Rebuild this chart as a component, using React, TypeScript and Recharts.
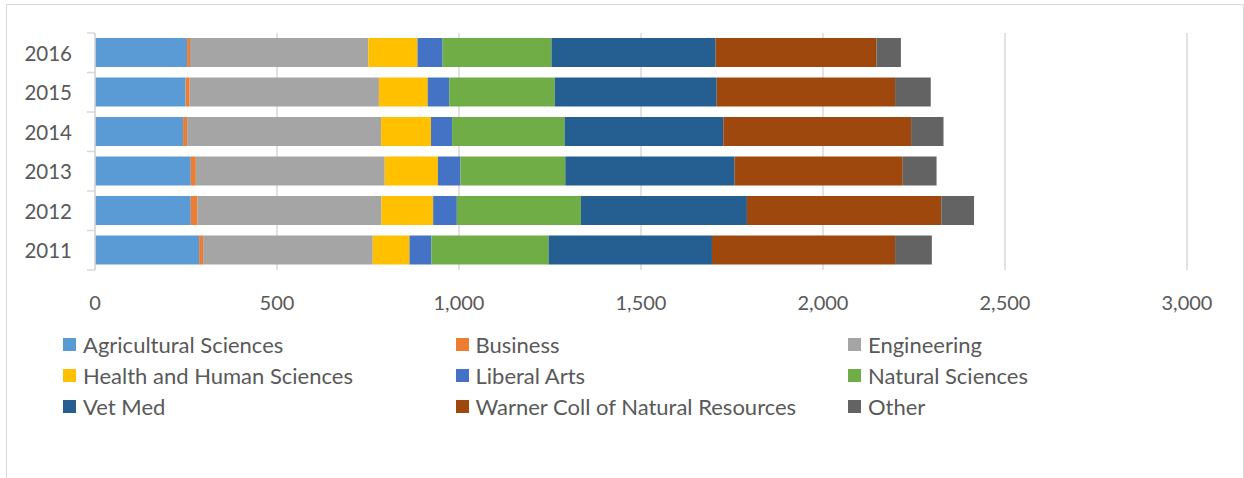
import { BarChart, Bar, XAxis, YAxis, CartesianGrid } from 'recharts'

const years = ['2016', '2015', '2014', '2013', '2012', '2011']

const seriesNames = [
  'Agricultural Sciences',
  'Business',
  'Engineering',
  'Health and Human Sciences',
  'Liberal Arts',
  'Natural Sciences',
  'Vet Med',
  'Warner Coll of Natural Resources',
  'Other',
]

const seriesColors = [
  '#5b9bd5',
  '#ed7d31',
  '#a5a5a5',
  '#ffc000',
  '#4472c4',
  '#70ad47',
  '#255e91',
  '#9e480e',
  '#636363',
]

// one list per college, in the same order as years (2016 first)
const agricultural = [253, 249, 242, 263, 263, 286]
const business = [8, 11, 11, 14, 18, 11]
const engineering = [490, 520, 533, 519, 506, 466]
const health = [135, 134, 137, 146, 142, 101]
const liberalArts = [69, 59, 58, 62, 65, 60]
const naturalSciences = [299, 290, 309, 288, 341, 322]
const vetMed = [451, 445, 436, 465, 456, 449]
const warner = [442, 490, 516, 462, 534, 503]
const other = [67, 98, 89, 93, 90, 101]

const xTicks = [0, 500, 1000, 1500, 2000, 2500, 3000]

const seriesValues = [
  agricultural,
  business,
  engineering,
  health,
  liberalArts,
  naturalSciences,
  vetMed,
  warner,
  other,
]

const data = years.map((year, i) => {
  const row: Record<string, string | number> = { year }
  seriesNames.forEach((name, s) => {
    row[name] = seriesValues[s][i]
  })
  return row
})

const FONT = 'Lato, "Open Sans", sans-serif'
const TEXT = '#595959'
const GRID = '#d9d9d9'
const BAND = 237 / years.length

function YearTick(props: any) {
  const { x, y, payload, index } = props
  return (
    <g>
      <text
        x={x - 23}
        y={y}
        textAnchor="end"
        dominantBaseline="central"
        fill={TEXT}
        fontSize={20.5}
        fontFamily={FONT}
      >
        {payload.value}
      </text>
      <line x1={x - 8} x2={x} y1={y - BAND / 2} y2={y - BAND / 2} stroke={GRID} strokeWidth={1.5} />
      {index === years.length - 1 && (
        <line x1={x - 8} x2={x} y1={y + BAND / 2} y2={y + BAND / 2} stroke={GRID} strokeWidth={1.5} />
      )}
    </g>
  )
}

export default function App() {
  return (
    <div
      style={{
        position: 'absolute',
        left: 0,
        top: 0,
        width: 1244,
        height: 478,
        background: '#fff',
        overflow: 'hidden',
        fontFamily: FONT,
      }}
    >
      <div
        style={{
          position: 'absolute',
          left: 6,
          top: 4,
          width: 1236,
          height: 520,
          border: '1.5px solid #d9d9d9',
        }}
      />
      <div style={{ position: 'absolute', left: 0, top: 0 }}>
        <BarChart
          width={1244}
          height={478}
          data={data}
          layout="vertical"
          margin={{ top: 33, right: 57, bottom: 148, left: 0 }}
          barSize={29}
        >
          <CartesianGrid horizontal={false} stroke={GRID} strokeWidth={1.5} />
          <XAxis
            type="number"
            domain={[0, 3000]}
            ticks={xTicks}
            axisLine={false}
            tickLine={false}
            tickSize={0}
            tickMargin={26}
            height={60}
            interval={0}
            tickFormatter={(v: number) => v.toLocaleString('en-US')}
            tick={{ fontSize: 20, fill: TEXT, fontFamily: FONT }}
          />
          <YAxis
            type="category"
            dataKey="year"
            width={95}
            tickLine={false}
            tickSize={0}
            tickMargin={0}
            axisLine={{ stroke: GRID, strokeWidth: 1.5 }}
            tick={<YearTick />}
          />
          {seriesNames.map((name, s) => (
            <Bar
              key={name}
              dataKey={name}
              stackId="total"
              fill={seriesColors[s]}
              isAnimationActive={false}
            />
          ))}
        </BarChart>
      </div>
      {seriesNames.map((name, s) => (
        <div
          key={name}
          style={{
            position: 'absolute',
            left: 63 + (s % 3) * 392.5,
            top: 344 + Math.floor(s / 3) * 31.3 - 13,
            height: 26,
            display: 'flex',
            alignItems: 'center',
            whiteSpace: 'nowrap',
            color: TEXT,
            fontSize: 22,
          }}
        >
          <span
            style={{
              display: 'inline-block',
              width: 13,
              height: 13,
              background: seriesColors[s],
              marginRight: 7,
            }}
          />
          {name}
        </div>
      ))}
    </div>
  )
}
